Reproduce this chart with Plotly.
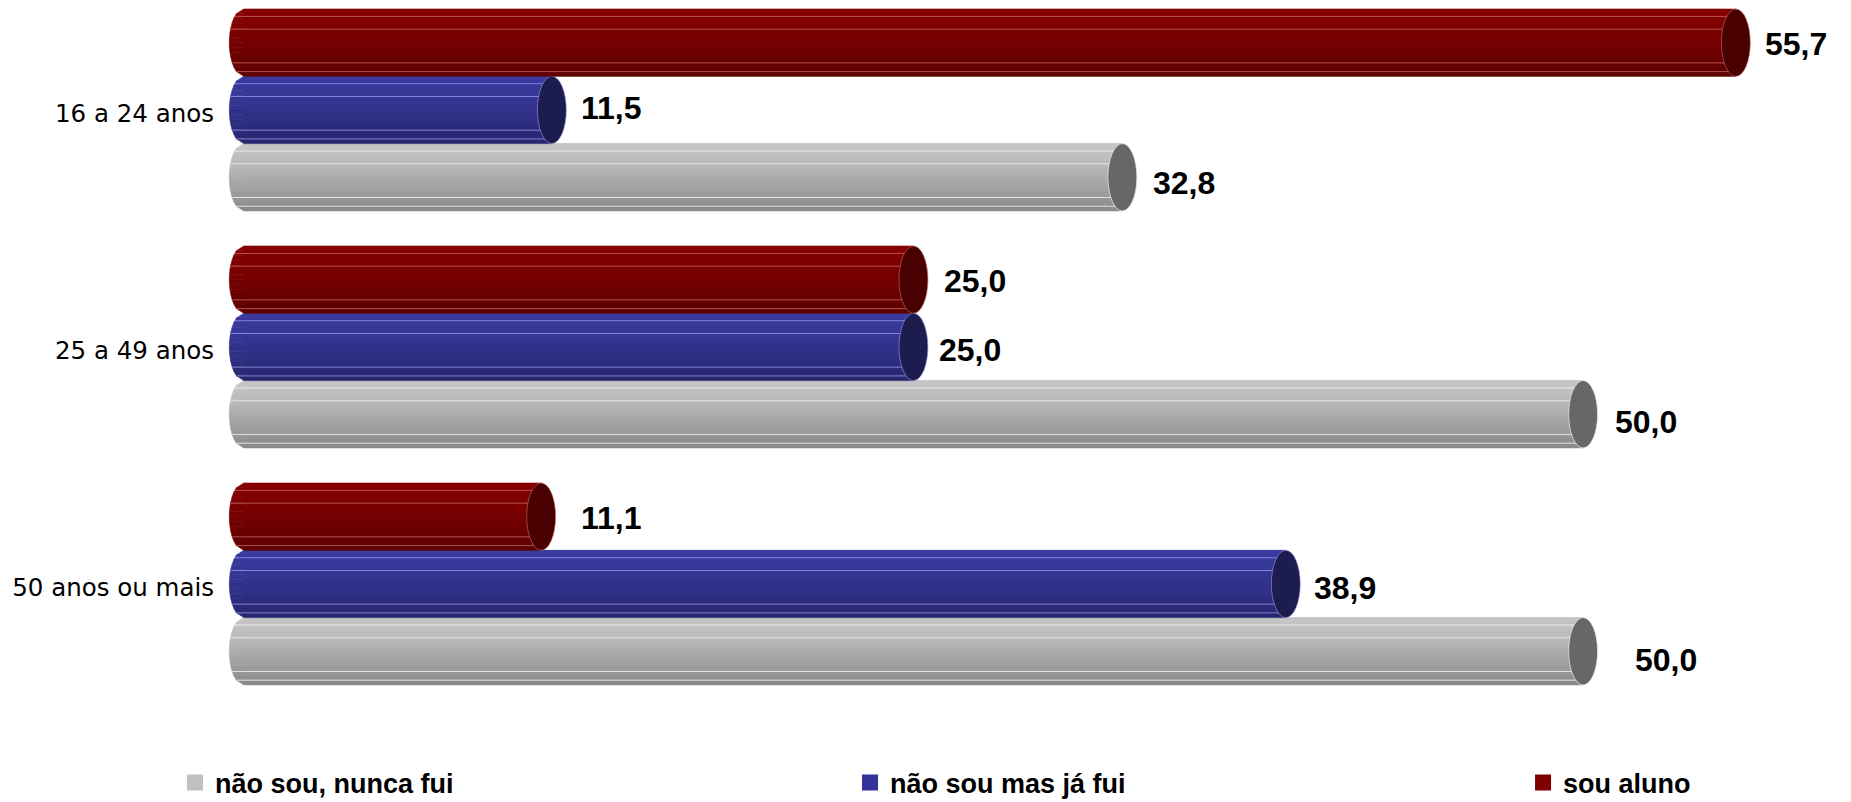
import math
import plotly.graph_objects as go

# ---------------- data ----------------
categories = ["16 a 24 anos", "25 a 49 anos", "50 anos ou mais"]
series_names = ["não sou, nunca fui", "não sou mas já fui", "sou aluno"]
nunca_fui = [32.8, 50.0, 50.0]
ja_fui = [11.5, 25.0, 38.9]
sou_aluno = [55.7, 25.0, 11.1]
series_values = [nunca_fui, ja_fui, sou_aluno]

# ---------------- style ----------------
legend_colors = ["#c0c0c0", "#333399", "#800000"]
top_colors = [(198, 198, 198), (58, 58, 160), (134, 0, 0)]
bottom_colors = [(136, 136, 136), (38, 38, 110), (92, 0, 0)]
cap_colors = ["#676767", "#1c1c4e", "#480000"]
line_colors = ["rgba(235,235,235,0.9)", "rgba(150,150,230,0.8)", "rgba(200,110,110,0.75)"]
# label nudges (px) per series, per category
label_dx = [[29, 30, 50], [27, 24, 26], [27, 29, 38]]
label_dy = [[6, 8, 9], [-2, 3, 4], [1, 1, 1]]
legend_x = [-0.0257, 0.3874, 0.7993]
legend_ids = ["legend", "legend2", "legend3"]

cat_pos = [2, 1, 0]
bargap = 0.148
w = (1 - bargap) / 3
cap_a = 0.54          # half width of end ellipse in x units
n_bands = 14
stripe_fracs = [0.11, 0.30, 0.80, 0.93]


def lerp(c1, c2, t):
    return "rgb(%d,%d,%d)" % tuple(round(a + (b - a) * t) for a, b in zip(c1, c2))


def xl(u):
    return -cap_a * math.sqrt(max(0.0, 1 - u * u))


fig = go.Figure()
shapes = []
annotations = []

for j, (name, vals) in enumerate(zip(series_names, series_values)):
    fig.add_trace(go.Bar(
        y=cat_pos, x=vals, orientation="h", name=name,
        width=w, offset=(j - 1) * w - w / 2,
        marker=dict(color=legend_colors[j], line=dict(width=0)),
        showlegend=False, hoverinfo="x+name",
    ))
    fig.add_trace(go.Scatter(
        x=[None], y=[None], mode="markers", name=name,
        marker=dict(symbol="square", size=20, color=legend_colors[j]),
        showlegend=True, legend=legend_ids[j],
    ))
    for i, v in enumerate(vals):
        c = cat_pos[i] + (j - 1) * w
        h = w / 2
        for k in range(n_bands):
            ut = 1 - 2 * k / n_bands
            ub = 1 - 2 * (k + 1) / n_bands
            t = ((k + 0.5) / n_bands) ** 1.3
            col = lerp(top_colors[j], bottom_colors[j], t)
            path = "M %f,%f L %f,%f L %f,%f L %f,%f Z" % (
                xl(ut), c + ut * h, v, c + ut * h, v, c + ub * h, xl(ub), c + ub * h)
            shapes.append(dict(type="path", path=path, xref="x", yref="y",
                               fillcolor=col, line=dict(color=col, width=0.6),
                               layer="above"))
        for f in stripe_fracs:
            u = 1 - 2 * f
            shapes.append(dict(type="line", xref="x", yref="y",
                               x0=xl(u), x1=v, y0=c + u * h, y1=c + u * h,
                               line=dict(color=line_colors[j], width=1),
                               layer="above"))
        shapes.append(dict(type="circle", xref="x", yref="y",
                           x0=v - cap_a, x1=v + cap_a, y0=c - h, y1=c + h,
                           fillcolor=cap_colors[j],
                           line=dict(color=line_colors[j], width=0.8),
                           layer="above"))
        annotations.append(dict(
            x=v, y=c, xref="x", yref="y", text=f"{v:.1f}".replace(".", ","),
            showarrow=False, xanchor="left", yanchor="middle",
            xshift=label_dx[j][i], yshift=-label_dy[j][i],
            font=dict(family="Liberation Sans, Arial, sans-serif", size=32,
                      color="black", weight="bold"),
        ))

legend_font = dict(family="Liberation Sans, Arial, sans-serif", size=27,
                   color="black", weight="bold")
legends = {}
for j, lid in enumerate(legend_ids):
    legends[lid] = dict(orientation="h", x=legend_x[j], xanchor="left",
                        y=-0.0875, yanchor="middle", itemwidth=30,
                        bgcolor="rgba(0,0,0,0)", font=legend_font)

fig.update_layout(
    width=1851, height=802,
    paper_bgcolor="white", plot_bgcolor="white",
    margin=dict(l=217, r=0, t=0, b=82, autoexpand=False),
    barmode="overlay",
    shapes=shapes, annotations=annotations,
    xaxis=dict(range=[-1, 60], showgrid=False, zeroline=False, showline=False,
               showticklabels=False, ticks=""),
    yaxis=dict(range=[-0.574, 2.464], tickvals=cat_pos, ticktext=categories,
               showgrid=False, zeroline=False, showline=False, ticks="",
               ticklabelshift=3, ticklabelstandoff=2,
               tickfont=dict(family="DejaVu Sans, Verdana, sans-serif", size=24.5,
                             color="black")),
    showlegend=True,
    **legends,
)

fig.write_html("out.html", config={"displayModeBar": False},
               post_script="document.body.style.margin='0';")
